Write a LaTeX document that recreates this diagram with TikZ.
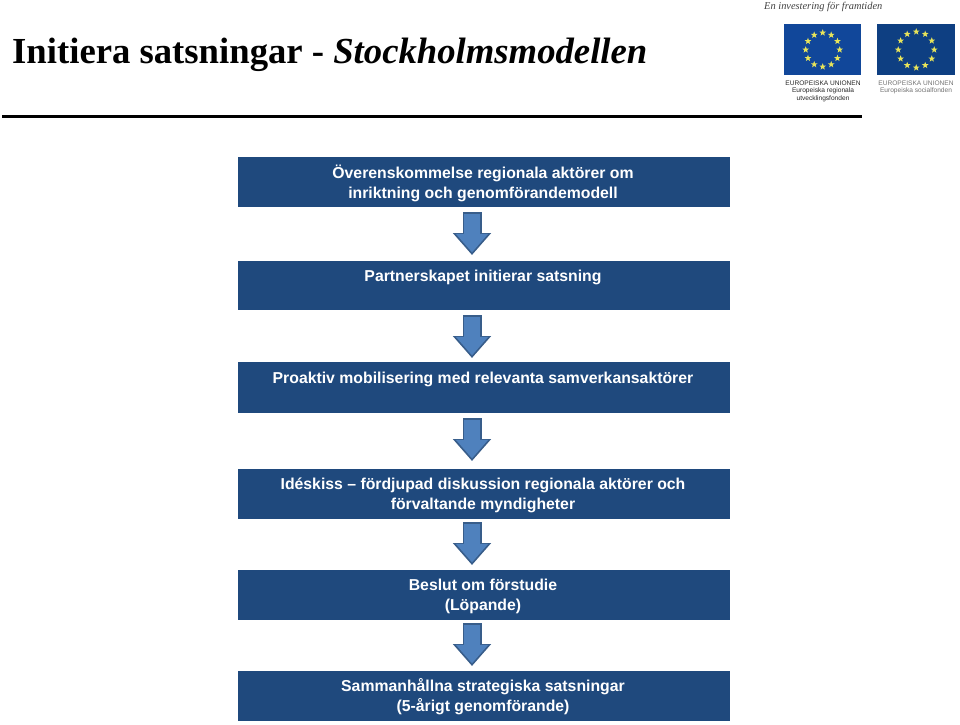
\documentclass[tikz,border=0pt]{standalone}
\usepackage{fontspec}
\setmainfont{Liberation Serif}
\newfontfamily\boxfont{Liberation Sans}
\usetikzlibrary{arrows.meta,shapes.geometric,calc}
\definecolor{boxblue}{HTML}{1F497D}
\definecolor{arrowdark}{HTML}{385D8A}
\definecolor{arrowfill}{HTML}{4F81BD}
\definecolor{flagA}{HTML}{11479A}
\definecolor{flagB}{HTML}{0E3F82}
\definecolor{starcol}{HTML}{E8E45A}
\tikzset{
  stage/.style={fill=boxblue,draw=none,minimum width=492pt,inner sep=0pt,anchor=north west},
  stagetext/.style={text=white,font=\boxfont\bfseries\fontsize{15.8}{20}\selectfont,align=center,inner sep=0pt},
  flowout/.style={line width=19pt,arrowdark,-{Triangle[length=22pt,width=37pt,inset=0pt]}},
  flowin/.style={line width=16pt,arrowfill,-{Triangle[length=18.5pt,width=31pt,inset=0pt]}},
  flagbox/.style={draw=none,minimum width=77pt,minimum height=51pt,inner sep=0pt},
  eustar/.style={star,star points=5,star point ratio=2.4,fill=starcol,draw=none,minimum size=7pt,inner sep=0pt},
  logotext/.style={inner sep=0pt,font=\boxfont\fontsize{6.6}{7.6}\selectfont,align=center}
}
\begin{document}
\begin{tikzpicture}[x=1pt,y=-1pt]
\useasboundingbox[fill=white] (0,0) rectangle (960,724);
% title
\node[anchor=base west,inner sep=0pt,font=\fontsize{36.7}{42}\selectfont\bfseries] (title) at (12,63) {Initiera satsningar - \textit{Stockholmsmodellen}};
\fill[black] (2,114.8) rectangle (862,118.2);
% logos
\node[anchor=west,inner sep=0pt,text=black!75,font=\fontsize{10.4}{13}\selectfont\itshape] (slogan) at (764,6.5) {En investering för framtiden};
\node[flagbox,fill=flagA,anchor=north west] (flag1) at (784,24) {};
\node[flagbox,fill=flagB,anchor=north west,minimum width=78pt] (flag2) at (877,24) {};
\foreach \a in {0,30,...,330}{
  \node[eustar] (sa\a) at ($(flag1.center)+(\a:17)$) {};
  \node[eustar] (sb\a) at ($(flag2.center)+(\a:18)$) {};
}
\node[logotext,text=black!85] (l1) at (823,91.3) {EUROPEISKA UNIONEN\\Europeiska regionala\\utvecklingsfonden};
\node[logotext,text=black!55,anchor=north] (l2) at (916,80.5) {EUROPEISKA UNIONEN\\Europeiska socialfonden};
% stages
\node[stage,minimum height=50pt] (s1) at (238,157) {};
\node[stage,minimum height=49pt] (s2) at (238,261) {};
\node[stage,minimum height=51pt] (s3) at (238,362) {};
\node[stage,minimum height=50pt] (s4) at (238,469) {};
\node[stage,minimum height=50pt] (s5) at (238,570) {};
\node[stage,minimum height=50pt] (s6) at (238,671) {};
\node[stagetext] (t1) at (483,183) {Överenskommelse regionala aktörer om\\inriktning och genomförandemodell};
\node[stagetext] (t2) at (483,277) {Partnerskapet initierar satsning};
\node[stagetext] (t3) at (483,379.5) {Proaktiv mobilisering med relevanta samverkansaktörer};
\node[stagetext] (t4) at (483,495) {Idéskiss – fördjupad diskussion regionala aktörer och\\förvaltande myndigheter};
\node[stagetext] (t5) at (483,596) {Beslut om förstudie\\(Löpande)};
\node[stagetext] (t6) at (483,697) {Sammanhållna strategiska satsningar\\(5-årigt genomförande)};
% connectors
\coordinate (ax) at (472,0);
\foreach \p/\q/\g/\h in {s1/s2/5/6,s2/s3/5/4,s3/s4/5/8,s4/s5/3/5,s5/s6/3/5}{
  \draw[flowout,shorten <=\g pt,shorten >=\h pt] (\p.south -| ax) -- (\q.north -| ax);
  \draw[flowin,shorten <=\g pt+1.5pt,shorten >=\h pt+2.6pt] (\p.south -| ax) -- (\q.north -| ax);
}
\end{tikzpicture}
\end{document}
